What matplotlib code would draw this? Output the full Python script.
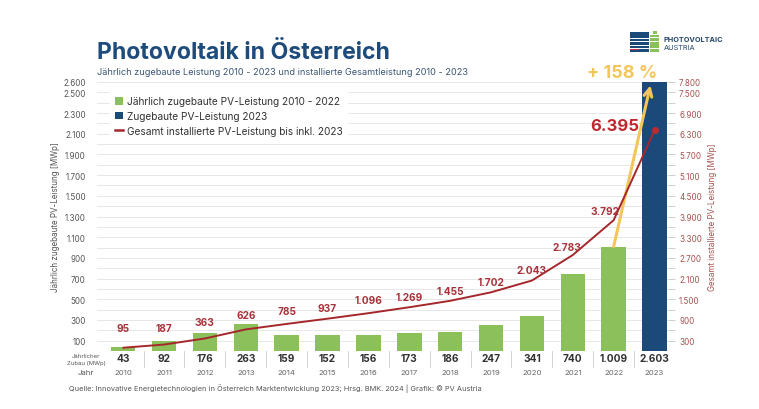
import matplotlib
matplotlib.use("Agg")
import matplotlib.pyplot as plt
from matplotlib.patches import Patch, Rectangle
from matplotlib.lines import Line2D
from matplotlib.ticker import FixedLocator, FuncFormatter
import matplotlib.transforms as mtransforms

plt.rcParams['font.family'] = ['Inter', 'DejaVu Sans']

# ---- data ----
years = [2010, 2011, 2012, 2013, 2014, 2015, 2016, 2017, 2018, 2019, 2020, 2021, 2022, 2023]
annual = [43, 92, 176, 263, 159, 152, 156, 173, 186, 247, 341, 740, 1009, 2603]
cumulative = [95, 187, 363, 626, 785, 937, 1096, 1269, 1455, 1702, 2043, 2783, 3792, 6395]
growth_label = "+ 158 %"

title = "Photovoltaik in Österreich"
subtitle = "Jährlich zugebaute Leistung 2010 - 2023 und installierte Gesamtleistung 2010 - 2023"
source = "Quelle: Innovative Energietechnologien in Österreich Marktentwicklung 2023; Hrsg. BMK. 2024 | Grafik: © PV Austria"
legend_labels = ["Jährlich zugebaute PV-Leistung 2010 - 2022",
                 "Zugebaute PV-Leistung 2023",
                 "Gesamt installierte PV-Leistung bis inkl. 2023"]
left_ticks = [100, 300, 500, 700, 900, 1100, 1300, 1500, 1700, 1900, 2100, 2300, 2500, 2600]
right_ticks = [300, 900, 1500, 2100, 2700, 3300, 3900, 4500, 5100, 5700, 6300, 6900, 7500, 7800]

# ---- styles ----
GREEN = '#8cc05a'
BLUE = '#1b4a7a'
RED = '#a5272c'
LABEL_RED = '#a8333a'
YELLOW = '#f3c65c'
TITLE_BLUE = '#1d4b7b'
W, H = 759, 410

def fmt(v):
    return f"{int(v):,}".replace(",", ".")

fig = plt.figure(figsize=(W / 100, H / 100), dpi=100)
fig.patch.set_facecolor('white')
ax = fig.add_axes([97 / W, (H - 352) / H, (668 - 97) / W, (352 - 83) / H])
ax2 = ax.twinx()
ax.set_zorder(ax2.get_zorder() - 1)  # bars below line
ax2.patch.set_visible(False)

x = list(range(len(years)))
colors = [GREEN] * (len(years) - 1) + [BLUE]
ax.bar(x, annual, width=0.6, color=colors, zorder=2)
ax.set_xlim(-0.64, len(years) - 1 + 0.33)
ax.set_ylim(0, 2600)
ax2.set_ylim(0, 7800)

for s in list(ax.spines.values()) + list(ax2.spines.values()):
    s.set_visible(False)

# gridlines every 100 (left scale)
for g in range(100, 2601, 100):
    ax.axhline(g, color='#c8c8c8', lw=0.6, ls=(0, (1.2, 1.2)), zorder=1)

ax.yaxis.set_major_locator(FixedLocator(left_ticks))
ax.yaxis.set_major_formatter(FuncFormatter(lambda v, p: fmt(v)))
ax.tick_params(axis='y', length=0, pad=8, labelsize=5.8, labelcolor='#555555')
ax.set_xticks([])
ax.set_ylabel("Jährlich zugebaute PV-Leistung [MWp]", fontsize=5.8, color='#555555', labelpad=2)

ax2.yaxis.set_major_locator(FixedLocator(right_ticks))
ax2.yaxis.set_minor_locator(FixedLocator(list(range(300, 7801, 300))))
ax2.yaxis.set_major_formatter(FuncFormatter(lambda v, p: fmt(v)))
ax2.tick_params(axis='y', which='major', length=5, width=0.6, color='#c8c8c8', pad=3,
                labelsize=5.8, labelcolor='#a5524f')
ax2.tick_params(axis='y', which='minor', length=5, width=0.6, color='#c8c8c8')
ax2.set_ylabel("Gesamt installierte PV-Leistung [MWp]", fontsize=5.8, color='#a5524f', labelpad=4)

# cumulative line
ax2.plot(x, cumulative, color=RED, lw=1.4, zorder=5, solid_capstyle='round')
ax2.plot([x[-1]], [cumulative[-1]], 'o', color='#c0282e', ms=4, zorder=6)

# labels above line points (pixel offsets)
dy = [20, 17, 16, 14, 13, 11, 13, 10.5, 10, 10, 11, 8.5, 9]
dx = [0, 0, 0, 0, 0, 0, 0, 0, 0, 0, 0, -6, -9]
for i in range(len(years) - 1):
    ax2.annotate(fmt(cumulative[i]), (x[i], cumulative[i]),
                 xytext=(dx[i] * 0.72, dy[i] * 0.72), textcoords='offset points',
                 ha='center', va='center', fontsize=7.3, fontweight='bold', color=LABEL_RED, zorder=7)
ax2.annotate(fmt(cumulative[-1]), (x[-1], cumulative[-1]),
             xytext=(-40 * 0.72, 5 * 0.72), textcoords='offset points',
             ha='center', va='center', fontsize=12, fontweight='bold', color='#c0282e', zorder=7)

# yellow growth arrow
ax.annotate('', xy=(x[-1] - 0.1, annual[-1] - 35), xytext=(x[-2], annual[-2]),
            arrowprops=dict(arrowstyle='->', color=YELLOW, lw=2.2, mutation_scale=14,
                            shrinkA=0, shrinkB=0), zorder=8, annotation_clip=False)
fig.text(622 / W, 1 - 74 / H, growth_label, ha='center', va='center', fontsize=13,
         fontweight='bold', color=YELLOW)

# legend
handles = [Patch(facecolor=GREEN, edgecolor='none'),
           Patch(facecolor=BLUE, edgecolor='none'),
           Line2D([0], [0], color=RED, lw=1.8)]
leg = ax.legend(handles, legend_labels, loc='upper left', bbox_to_anchor=(0.022, 0.965),
                fontsize=7.3, frameon=True, facecolor='white', edgecolor='none', framealpha=1,
                handlelength=0.8, handleheight=0.8, handletextpad=0.4, labelspacing=0.45,
                borderpad=0.5, borderaxespad=0)
for t in leg.get_texts():
    t.set_color('#333333')
leg.set_zorder(10)

# table below axes
trans = mtransforms.blended_transform_factory(ax.transData, ax.transAxes)
for i in range(len(years)):
    ax.text(x[i], -7 / 269, fmt(annual[i]), transform=trans, ha='center', va='center',
            fontsize=7.3, fontweight='bold', color='#333333', clip_on=False)
    ax.text(x[i], -21 / 269, str(years[i]), transform=trans, ha='center', va='center',
            fontsize=5.6, color='#666666', clip_on=False)
for i in range(len(years) - 1):
    ax.plot([x[i] + 0.5, x[i] + 0.5], [0, -16 / 269], transform=trans, color='#cccccc',
            lw=0.6, clip_on=False)
fig.text(86 / W, 1 - 360 / H, "Jährlicher\nZubau (MWp)", ha='center', va='center',
         fontsize=4.3, color='#555555', linespacing=1.4)
fig.text(86 / W, 1 - 373 / H, "Jahr", ha='center', va='center', fontsize=5.6, color='#555555')

# titles & source
fig.text(97 / W, 1 - 59 / H, title, ha='left', va='baseline', fontsize=16.6,
         fontweight='bold', color=TITLE_BLUE)
fig.text(97 / W, 1 - 75.5 / H, subtitle, ha='left', va='baseline', fontsize=6.6, color='#3b5574')
fig.text(69 / W, 1 - 391 / H, source, ha='left', va='baseline', fontsize=5.3, color='#555555')

# logo
def fr(px, py, pw, ph, c):
    fig.patches.append(Rectangle((px / W, 1 - (py + ph) / H), pw / W, ph / H,
                                 transform=fig.transFigure, facecolor=c, edgecolor='none'))
for k in range(6):
    fr(630, 33 + k * 3.4, 19, 2.6, BLUE)
fr(630, 50, 9, 1.3, '#d0343a')
fr(653, 32, 4, 3, GREEN)
for k in range(5):
    fr(650, 35.5 + k * 3.6, 9, 2.8, GREEN)
fig.text(664 / W, 1 - 42 / H, "PHOTOVOLTAIC", ha='left', va='baseline', fontsize=5.3,
         fontweight='bold', color='#2a4a6a')
fig.text(664 / W, 1 - 50 / H, "AUSTRIA", ha='left', va='baseline', fontsize=5.3,
         color='#2a4a6a')

fig.savefig("out.png", dpi=100, facecolor='white')
